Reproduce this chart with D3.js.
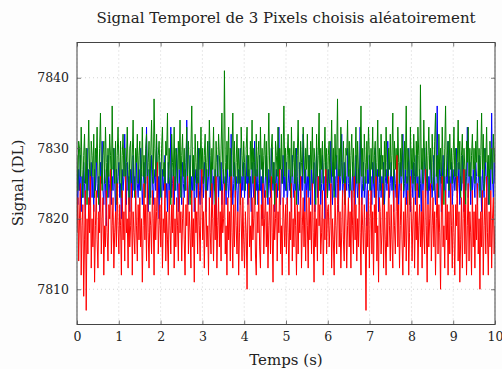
<!DOCTYPE html>
<html><head><meta charset="utf-8">
<script src="https://cdn.jsdelivr.net/npm/d3@7"></script>
<style>
html,body{margin:0;padding:0;background:#fdfdfd;}
text{font-family:"DejaVu Serif",serif;fill:#222;}
</style></head>
<body><svg id="c" width="502" height="369"></svg>
<script>
const title = "Signal Temporel de 3 Pixels choisis aléatoirement";
const xLabel = "Temps (s)";
const yLabel = "Signal (DL)";
const xTicks = [0,1,2,3,4,5,6,7,8,9,10];
const yTicks = [7810,7820,7830,7840];
const duration = 10;

const blue = [
7825,7822,7827,7824,7829,7821,7826,7823,7828,7825,7820,7826,7830,7824,7827,7822,7825,7828,7823,7826,7821,7827,7824,7829,7825,
7823,7826,7821,7828,7825,7831,7824,7822,7827,7825,7819,7826,7829,7823,7825,7827,7822,7826,7824,7830,7825,7821,7827,7824,7826,
7828,7823,7825,7820,7827,7824,7826,7832,7825,7822,7828,7824,7826,7821,7827,7825,7823,7829,7824,7826,7822,7828,7825,7823,7827,
7824,7830,7826,7822,7825,7828,7823,7826,7833,7824,7821,7827,7825,7823,7829,7826,7822,7825,7827,7824,7831,7823,7826,7820,7828,
7825,7822,7827,7824,7826,7829,7823,7825,7821,7828,7824,7826,7833,7823,7825,7827,7822,7826,7824,7830,7825,7821,7827,7824,7826,
7822,7828,7825,7823,7827,7824,7834,7826,7822,7825,7829,7823,7826,7824,7828,7821,7825,7827,7823,7826,7830,7824,7822,7827,7825,
7826,7823,7828,7825,7821,7827,7824,7826,7831,7823,7825,7828,7822,7826,7824,7827,7819,7825,7829,7823,7826,7824,7828,7822,7825,
7827,7824,7826,7822,7829,7825,7823,7827,7824,7832,7826,7822,7825,7828,7823,7826,7824,7821,7827,7825,7830,7823,7826,7824,7828,
7823,7826,7825,7829,7822,7827,7824,7826,7821,7828,7825,7823,7831,7826,7824,7827,7822,7825,7829,7824,7826,7820,7828,7825,7823,
7826,7829,7824,7822,7827,7825,7823,7830,7826,7824,7828,7821,7825,7827,7823,7826,7833,7824,7822,7827,7825,7829,7823,7826,7824,
7828,7822,7825,7827,7824,7826,7821,7829,7825,7823,7827,7824,7830,7826,7822,7825,7828,7823,7826,7824,7832,7825,7821,7827,7824,
7826,7823,7829,7825,7822,7827,7824,7826,7828,7821,7825,7830,7823,7826,7824,7827,7822,7825,7829,7824,7826,7820,7828,7825,7823,
7827,7824,7826,7831,7825,7822,7828,7824,7826,7823,7829,7825,7821,7827,7824,7826,7832,7823,7825,7828,7822,7826,7824,7830,7825,
7823,7827,7825,7821,7828,7824,7826,7822,7829,7825,7823,7827,7824,7833,7826,7822,7825,7828,7823,7826,7824,7819,7827,7825,7829,
7824,7826,7822,7828,7825,7823,7830,7826,7824,7827,7821,7825,7829,7823,7826,7824,7828,7822,7825,7827,7824,7831,7826,7823,7825,
7828,7824,7826,7821,7827,7825,7823,7829,7826,7822,7825,7828,7824,7826,7832,7823,7825,7827,7822,7826,7824,7830,7825,7821,7827,
7825,7823,7828,7826,7822,7829,7824,7826,7823,7827,7825,7821,7828,7824,7826,7830,7823,7825,7827,7822,7826,7824,7829,7825,7823,
7826,7829,7824,7822,7827,7836,7825,7823,7828,7826,7821,7825,7829,7824,7826,7822,7827,7825,7831,7823,7826,7824,7828,7822,7825,
7827,7824,7826,7830,7823,7825,7828,7822,7826,7824,7829,7825,7821,7827,7824,7826,7833,7823,7825,7828,7822,7826,7824,7827,7825,
7823,7828,7826,7822,7825,7829,7824,7826,7821,7827,7825,7823,7830,7826,7824,7828,7822,7825,7827,7824,7835,7826,7823,7828,7825];

const green = [
7829,7824,7831,7830,7826,7833,7827,7823,7829,7832,7825,7830,7822,7828,7834,7827,7824,7831,7829,7826,7832,7823,7830,7828,7833,
7826,7822,7830,7835,7827,7824,7829,7831,7825,7833,7828,7823,7830,7826,7832,7829,7824,7836,7827,7830,7825,7831,7822,7829,7833,
7828,7825,7831,7823,7829,7832,7826,7830,7824,7828,7833,7827,7822,7830,7831,7825,7829,7834,7826,7823,7830,7828,7832,7825,7829,
7831,7824,7827,7833,7826,7829,7823,7830,7832,7825,7828,7831,7822,7829,7834,7827,7825,7837,7830,7826,7832,7824,7829,7831,7827,
7823,7830,7833,7826,7828,7824,7831,7829,7835,7825,7830,7827,7822,7832,7828,7826,7833,7824,7830,7829,7825,7831,7827,7834,7823,
7829,7832,7826,7830,7824,7828,7833,7825,7831,7827,7822,7830,7836,7826,7829,7824,7832,7828,7825,7831,7823,7830,7827,7833,7826,
7830,7825,7829,7832,7823,7828,7831,7826,7834,7829,7824,7830,7827,7833,7825,7822,7831,7828,7826,7832,7829,7824,7830,7835,7827,
7825,7841,7828,7824,7831,7827,7833,7826,7830,7823,7829,7835,7826,7831,7824,7828,7832,7825,7830,7827,7822,7833,7829,7826,7831,
7828,7824,7830,7833,7826,7829,7823,7831,7827,7834,7825,7830,7828,7822,7832,7826,7829,7831,7824,7833,7827,7830,7825,7829,7832,
7826,7831,7823,7829,7835,7827,7824,7830,7832,7825,7828,7822,7831,7829,7826,7833,7824,7830,7827,7832,7825,7829,7836,7826,7830,
7824,7829,7832,7827,7830,7823,7833,7826,7828,7831,7825,7830,7822,7829,7834,7827,7824,7831,7828,7826,7833,7829,7825,7830,7827,
7832,7826,7829,7824,7831,7827,7833,7825,7830,7828,7822,7832,7826,7829,7835,7824,7830,7827,7831,7825,7828,7833,7826,7830,7823,
7829,7831,7825,7828,7834,7826,7830,7823,7832,7827,7829,7837,7824,7830,7826,7833,7828,7825,7831,7827,7822,7830,7829,7834,7826,
7831,7824,7829,7832,7826,7830,7823,7828,7833,7825,7831,7827,7822,7829,7836,7826,7830,7824,7832,7828,7825,7831,7827,7833,7829,
7824,7830,7827,7833,7825,7829,7831,7823,7828,7834,7826,7830,7824,7832,7827,7829,7822,7831,7826,7833,7828,7825,7830,7827,7832,
7826,7829,7835,7824,7831,7827,7830,7823,7833,7828,7825,7830,7826,7832,7829,7824,7831,7827,7836,7825,7830,7828,7822,7833,7827,
7830,7825,7832,7828,7824,7831,7826,7833,7829,7823,7839,7827,7830,7825,7834,7828,7826,7831,7824,7829,7833,7827,7830,7825,7832,
7828,7824,7831,7835,7826,7829,7823,7832,7827,7830,7825,7833,7828,7822,7830,7836,7826,7829,7831,7824,7832,7827,7830,7825,7829,
7833,7826,7830,7824,7828,7834,7827,7831,7823,7829,7832,7825,7830,7827,7822,7831,7828,7833,7826,7830,7824,7829,7832,7827,7830,
7825,7831,7828,7834,7826,7830,7823,7829,7835,7827,7832,7824,7830,7828,7833,7826,7829,7822,7831,7827,7830,7825,7832,7828,7830];

const red = [
7818,7823,7814,7820,7825,7812,7819,7822,7809,7817,7824,7807,7820,7815,7823,7818,7826,7813,7820,7816,7822,7811,7819,7824,7817,
7813,7821,7818,7826,7815,7820,7823,7812,7819,7816,7824,7818,7814,7822,7820,7827,7815,7819,7823,7813,7818,7821,7816,7825,7819,
7815,7822,7819,7812,7824,7817,7821,7814,7826,7818,7820,7813,7823,7816,7819,7825,7812,7821,7818,7815,7824,7819,7814,7822,7817,
7823,7816,7820,7811,7819,7825,7817,7822,7814,7826,7818,7813,7821,7819,7815,7824,7820,7812,7823,7817,7821,7828,7815,7819,7822,
7816,7823,7813,7820,7818,7825,7814,7821,7817,7812,7824,7819,7815,7822,7818,7826,7813,7820,7816,7823,7819,7814,7825,7818,7821,
7814,7820,7823,7817,7812,7822,7819,7826,7815,7821,7818,7813,7824,7816,7820,7811,7823,7818,7821,7815,7825,7819,7814,7822,7827,
7817,7821,7813,7820,7824,7816,7819,7812,7823,7818,7815,7825,7820,7814,7822,7817,7826,7813,7819,7823,7816,7821,7814,7824,7818,
7820,7825,7815,7819,7812,7823,7817,7821,7814,7826,7818,7813,7822,7816,7824,7819,7815,7821,7812,7818,7825,7820,7814,7823,7817,
7813,7821,7818,7810,7822,7825,7816,7819,7814,7823,7817,7820,7826,7815,7812,7821,7818,7824,7816,7813,7822,7819,7825,7815,7820,
7824,7816,7821,7813,7819,7823,7815,7826,7818,7811,7822,7817,7820,7825,7814,7821,7818,7827,7815,7819,7812,7823,7820,7816,7822,
7815,7823,7818,7812,7821,7817,7825,7814,7820,7816,7824,7819,7812,7822,7815,7821,7818,7826,7813,7819,7823,7816,7821,7814,7824,
7819,7813,7823,7817,7821,7815,7825,7818,7811,7822,7816,7820,7814,7826,7819,7822,7815,7818,7824,7812,7820,7817,7827,7815,7821,
7822,7816,7819,7825,7813,7820,7817,7812,7823,7819,7815,7822,7826,7816,7821,7813,7818,7824,7817,7814,7825,7820,7813,7819,7823,
7816,7821,7813,7824,7819,7815,7826,7817,7822,7814,7820,7816,7825,7818,7812,7823,7819,7815,7822,7818,7807,7821,7816,7824,7813,
7820,7824,7815,7821,7812,7822,7818,7826,7814,7819,7811,7823,7821,7815,7818,7825,7813,7822,7817,7812,7821,7816,7826,7819,7814,
7822,7817,7813,7824,7819,7815,7821,7829,7816,7822,7813,7819,7825,7817,7812,7821,7816,7823,7814,7820,7824,7812,7818,7826,7821,
7814,7820,7823,7813,7821,7817,7825,7812,7819,7822,7816,7821,7813,7824,7818,7815,7827,7819,7811,7822,7816,7820,7825,7814,7819,
7823,7816,7821,7812,7820,7825,7815,7822,7818,7810,7821,7826,7816,7819,7813,7824,7817,7822,7812,7821,7815,7825,7819,7813,7822,
7818,7812,7822,7819,7826,7814,7821,7811,7817,7823,7813,7820,7827,7815,7822,7812,7819,7825,7814,7821,7818,7812,7824,7816,7821,
7813,7822,7817,7825,7815,7820,7810,7821,7816,7824,7812,7819,7823,7815,7826,7818,7812,7821,7816,7824,7813,7820,7823,7815,7819];

const series = [
  {values: blue, color: "#0000ff"},
  {values: green, color: "#008000"},
  {values: red, color: "#ff0000"}
];

const svg = d3.select("#c");
const L = 77, R = 495, T = 42.5, B = 324.5;
const x = d3.scaleLinear().domain([0, 10]).range([L, R]);
const y = d3.scaleLinear().domain([7805, 7845]).range([B, T]);

svg.append("rect").attr("x", L).attr("y", T).attr("width", R-L).attr("height", B-T).attr("fill", "#fff");

const g = svg.append("g");
g.selectAll(".gx").data(xTicks).enter().append("line")
  .attr("x1", d => x(d)).attr("x2", d => x(d)).attr("y1", T).attr("y2", B)
  .attr("stroke", "#c8c8c8").attr("stroke-width", 0.8).attr("stroke-dasharray", "1,3");
g.selectAll(".gy").data(yTicks).enter().append("line")
  .attr("y1", d => y(d)).attr("y2", d => y(d)).attr("x1", L).attr("x2", R)
  .attr("stroke", "#c8c8c8").attr("stroke-width", 0.8).attr("stroke-dasharray", "1,3");

svg.append("clipPath").attr("id", "clp").append("rect")
  .attr("x", L).attr("y", T).attr("width", R-L).attr("height", B-T);

series.forEach(s => {
  const n = s.values.length;
  const line = d3.line().x((d, i) => x(i * duration / (n - 1))).y(d => y(d));
  svg.append("path").datum(s.values).attr("d", line)
    .attr("fill", "none").attr("stroke", s.color).attr("stroke-width", 1)
    .attr("clip-path", "url(#clp)");
});

const ax = svg.append("g");
ax.append("g").attr("transform", `translate(0,${B})`)
  .call(d3.axisBottom(x).tickValues(xTicks).tickSizeInner(-4).tickSizeOuter(0).tickPadding(8).tickFormat(d3.format("d")));
ax.append("g").attr("transform", `translate(0,${T})`)
  .call(d3.axisTop(x).tickValues(xTicks).tickSizeInner(-4).tickSizeOuter(0).tickFormat(""));
ax.append("g").attr("transform", `translate(${L},0)`)
  .call(d3.axisLeft(y).tickValues(yTicks).tickSizeInner(-4).tickSizeOuter(0).tickPadding(8).tickFormat(d3.format("d")));
ax.append("g").attr("transform", `translate(${R},0)`)
  .call(d3.axisRight(y).tickValues(yTicks).tickSizeInner(-4).tickSizeOuter(0).tickFormat(""));
ax.selectAll(".domain").remove();
ax.selectAll(".tick line").attr("stroke", "#555").attr("stroke-width", 0.8);
ax.selectAll(".tick text").attr("font-family", "DejaVu Serif").attr("font-size", 12.5).attr("fill", "#222");

svg.append("rect").attr("x", L).attr("y", T).attr("width", R-L).attr("height", B-T)
  .attr("fill", "none").attr("stroke", "#444").attr("stroke-width", 1);

svg.append("text").attr("x", 286).attr("y", 23).attr("text-anchor", "middle")
  .attr("font-size", 15).text(title);
svg.append("text").attr("x", 286).attr("y", 365).attr("text-anchor", "middle")
  .attr("font-size", 15).text(xLabel);
svg.append("text").attr("transform", "translate(23,183) rotate(-90)").attr("text-anchor", "middle")
  .attr("font-size", 15).text(yLabel);
</script></body></html>
